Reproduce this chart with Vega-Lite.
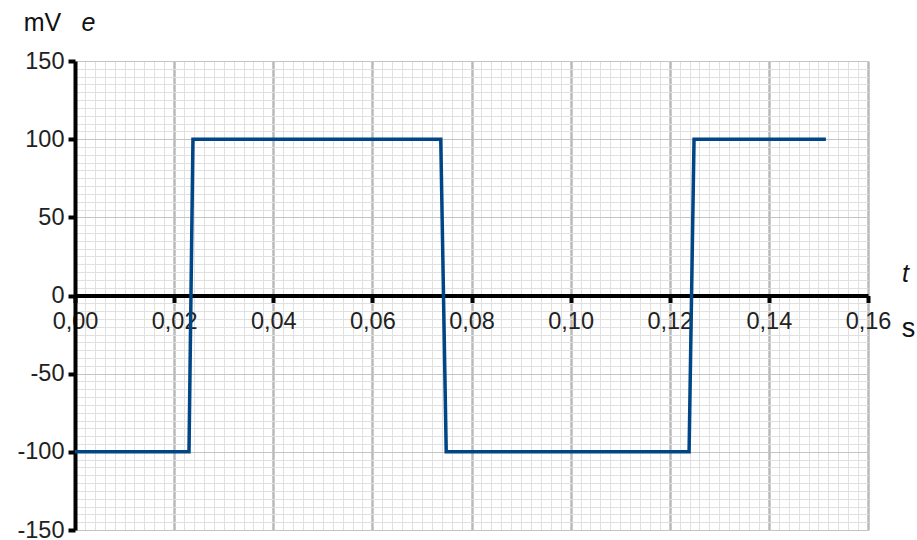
{
  "$schema": "https://vega.github.io/schema/vega-lite/v6.json",
  "width": 793,
  "height": 469,
  "autosize": {"type": "none"},
  "padding": {"left": 75, "top": 61, "right": 49, "bottom": 10},
  "background": "white",
  "config": {
    "view": {"stroke": null},
    "font": "Liberation Sans",
    "axis": {"labelFont": "Liberation Sans", "titleFont": "Liberation Sans"}
  },
  "data": {
    "values": [
      {"t": 0.0, "e": -100},
      {"t": 0.023, "e": -100},
      {"t": 0.0238, "e": 100},
      {"t": 0.0738, "e": 100},
      {"t": 0.0749, "e": -100},
      {"t": 0.1239, "e": -100},
      {"t": 0.1249, "e": 100},
      {"t": 0.1515, "e": 100}
    ]
  },
  "layer": [
    {
      "mark": {"type": "line", "opacity": 0},
      "encoding": {
        "x": {
          "field": "t", "type": "quantitative",
          "scale": {"domain": [0, 0.16], "nice": false, "zero": false},
          "axis": {
            "orient": "bottom",
            "values": [0,0.002,0.004,0.006,0.008,0.01,0.012,0.014,0.016,0.018,0.02,0.022,0.024,0.026,0.028,0.03,0.032,0.034,0.036,0.038,0.04,0.042,0.044,0.046,0.048,0.05,0.052,0.054,0.056,0.058,0.06,0.062,0.064,0.066,0.068,0.07,0.072,0.074,0.076,0.078,0.08,0.082,0.084,0.086,0.088,0.09,0.092,0.094,0.096,0.098,0.1,0.102,0.104,0.106,0.108,0.11,0.112,0.114,0.116,0.118,0.12,0.122,0.124,0.126,0.128,0.13,0.132,0.134,0.136,0.138,0.14,0.142,0.144,0.146,0.148,0.15,0.152,0.154,0.156,0.158,0.16],
            "grid": true, "gridColor": "#e0e0e0", "gridWidth": 1,
            "domain": false, "ticks": false, "labels": false,
            "title": "t", "titleFontSize": 25, "titleFontWeight": "normal", "titleFontStyle": "italic", "titleColor": "#111",
            "titleX": 830, "titleY": -257, "titleAngle": 0, "titleAlign": "center", "titleBaseline": "middle", "titlePadding": 0
          }
        },
        "y": {
          "field": "e", "type": "quantitative",
          "scale": {"domain": [-150, 150], "nice": false, "zero": false},
          "axis": {
            "orient": "left",
            "values": [-150,-145,-140,-135,-130,-125,-120,-115,-110,-105,-100,-95,-90,-85,-80,-75,-70,-65,-60,-55,-50,-45,-40,-35,-30,-25,-20,-15,-10,-5,0,5,10,15,20,25,30,35,40,45,50,55,60,65,70,75,80,85,90,95,100,105,110,115,120,125,130,135,140,145,150],
            "grid": true, "gridColor": "#e0e0e0", "gridWidth": 1,
            "domain": false, "ticks": false, "labels": false,
            "title": "mV", "titleFontSize": 25, "titleFontWeight": "normal", "titleColor": "#111",
            "titleX": -33, "titleY": -39, "titleAngle": 0, "titleAlign": "center", "titleBaseline": "middle", "titlePadding": 0
          }
        }
      }
    },
    {
      "mark": {"type": "line", "opacity": 0},
      "encoding": {
        "x": {
          "field": "t", "type": "quantitative",
          "scale": {"domain": [0, 0.16], "nice": false, "zero": false},
          "axis": {
            "orient": "bottom",
            "values": [0, 0.02, 0.04, 0.06, 0.08, 0.1, 0.12, 0.14, 0.16],
            "grid": true, "gridColor": "#bababa", "gridWidth": 2.5,
            "domain": false, "ticks": false, "labels": false,
            "title": "s", "titleFontSize": 27, "titleFontWeight": "normal", "titleColor": "#111",
            "titleX": 833, "titleY": -202, "titleAngle": 0, "titleAlign": "center", "titleBaseline": "middle", "titlePadding": 0
          }
        },
        "y": {
          "field": "e", "type": "quantitative",
          "scale": {"domain": [-150, 150], "nice": false, "zero": false},
          "axis": {
            "orient": "left",
            "values": [-150, -100, -50, 0, 50, 100, 150],
            "grid": true, "gridColor": "#c4c4c4", "gridWidth": 1,
            "domain": false, "ticks": false, "labels": false,
            "title": "e", "titleFontSize": 25, "titleFontWeight": "normal", "titleFontStyle": "italic", "titleColor": "#111",
            "titleX": 13, "titleY": -39, "titleAngle": 0, "titleAlign": "center", "titleBaseline": "middle", "titlePadding": 0
          }
        }
      }
    },
    {
      "mark": {"type": "line", "color": "#004586", "strokeWidth": 3.5, "strokeJoin": "miter", "strokeCap": "butt"},
      "encoding": {
        "x": {
          "field": "t", "type": "quantitative",
          "scale": {"domain": [0, 0.16], "nice": false, "zero": false},
          "axis": {
            "orient": "bottom",
            "offset": -234.5,
            "values": [0, 0.02, 0.04, 0.06, 0.08, 0.1, 0.12, 0.14, 0.16],
            "grid": false,
            "domain": true, "domainColor": "#000", "domainWidth": 4,
            "ticks": true, "tickColor": "#000", "tickWidth": 4, "tickSize": 7,
            "labels": true, "labelFontSize": 23.5, "labelColor": "#222", "labelPadding": 7,
            "labelExpr": "replace(format(datum.value, '.2f'), '.', ',')",
            "labelFlush": false, "labelOverlap": false,
            "title": null
          }
        },
        "y": {
          "field": "e", "type": "quantitative",
          "scale": {"domain": [-150, 150], "nice": false, "zero": false},
          "axis": {
            "orient": "left",
            "values": [-150, -100, -50, 0, 50, 100, 150],
            "grid": false,
            "domain": true, "domainColor": "#000", "domainWidth": 4,
            "ticks": true, "tickColor": "#000", "tickWidth": 4, "tickSize": 7,
            "labels": true, "labelFontSize": 23.5, "labelColor": "#222", "labelPadding": 4,
            "labelExpr": "'' + datum.value",
            "labelFlush": false, "labelOverlap": false,
            "title": null
          }
        }
      }
    }
  ],
  "resolve": {"axis": {"x": "independent", "y": "independent"}, "scale": {"x": "independent", "y": "independent"}}
}
